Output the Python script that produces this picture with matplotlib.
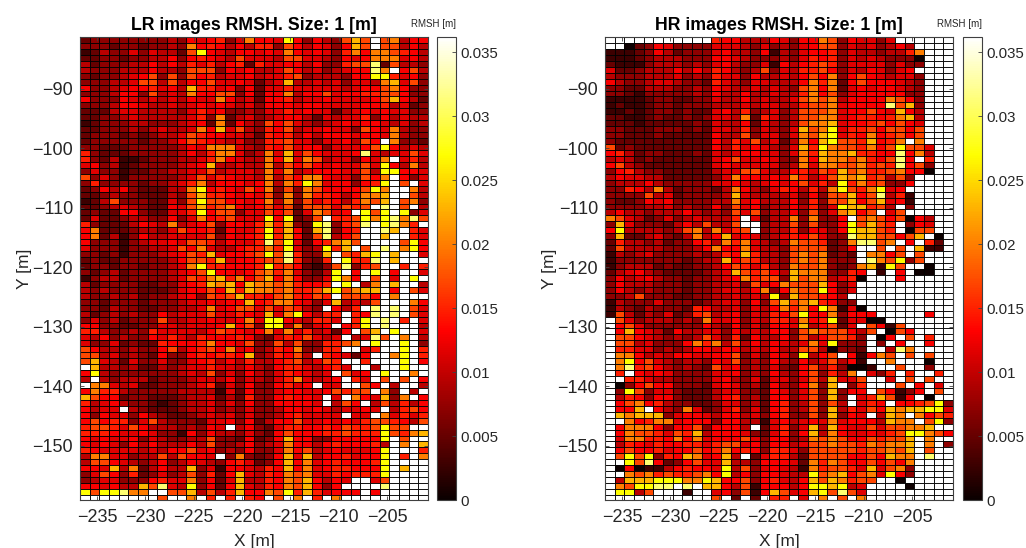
import numpy as np
import matplotlib
matplotlib.use("Agg")
import matplotlib.pyplot as plt

plt.rcParams['font.family'] = ['Liberation Sans', 'DejaVu Sans']

# Cell readings from the picture, one code per cell (see LEVELS), top row first.
LEVELS = {'0': 0.0002, '1': 0.0028, '2': 0.005, '3': 0.0072, '4': 0.0095, '5': 0.0115,
          '6': 0.013, '7': 0.0148, '8': 0.017, '9': 0.020, 'a': 0.023, 'y': 0.027,
          'p': 0.031, 'w': 0.037}

LR_LEFT = """233333333436567359 333233233439676464 124335354428y65466 223323344636765485
423334464647574672 433344464438883656 323345683838674556 333445884846685565
63345667564a775636 333466384549668836 633365454546559645 333466544545656545
222455444435756334 223345444445739245 123334433345629264 22333434544596a584
233323234458766554 233333233468765453 332223333346599954 732223333346479953
732411233344579654 5634123333456a4454 353312233445584555 835313333345857655
373333233457946665 236463222449y67658 223433222438a77656 124833322538y88665
223454322658a78965 232266322557y68835 252234433635967855 732224654945683665
692223443586672655 692413644555583656 633313455658874655 533313344586954467
3323133345687a5667 23223333346887a566 233233233459y77666 3234233334568y6656
13442333345879a796 4233332233567a9a6a 434333222356686a7a 4334342334563878a7
33233323334556566a 332433223344595688 423434336455585576 353423338445565569
663322335545556a68 774334375555468765 546343365754766676 533523227666796658
864434336846786956 88453432633676776a 8a5425335335674647 wa4434224345575546
6y4333333345483536 4w4344423334554635 w99545223334572536 697743333344441526
a86623322234452427 745643321234453536 6455w4322234453435 636553643223454535
686773584333255636 788758644434365w46 777655653316364435 656556354334483326
656536464446483346 765555454668563436 49955344848665w393 488654346346543675
665a4924644a351665 3586372353483726a5 3455333675593625a4 665644a8p54y3626a5
y8yyp99ww88a4847a6 wwwwwwww8ww9w7w7w7""".split()

LR_RIGHT = """665y636438a8w89466 7738646536a8w88464 565965653796998764 554885543656999564
755664633788p28443 445864534566p9w684 455783444366yy7563 245a4454535549a583
255755555456689633 266946685667788633 26674556555568a642 366656655556674523
355756552456565533 345664254557364544 386854345656654534 376845565538659433
276746466656659433 3778553556486w9332 3768566355568y6454 495a5865556p545585
496a5984553659w574 4948686565585y6494 4959456665584yy665 49486996553869w635
69497y9566367yw8w5 693839866668y9ww94 5839397764699aww84 6949385764798aw893
685828885878wpw8w4 5868259856wy8ywy35 5y6y238w778y9yp9p8 7a7a32yp378pwyp97w
7y7a62ap367wwpaw75 7y7a628p468wwaww75 7p8y52679a8wwww8y6 797y534y7aw8wpw9y6
8y8p733aw87aywaww5 788p7327wy77pwawww 7y7862138p378ww7w7 89795324yw6wyw6ww5
8a696335y96w8w5wyw 99897667wyw49waww4 9989778ay89aaw6w85 76897687w8886w9www
67996535a4548www96 5858743w647wpwpw85 5a59y6477w76pwpw85 5yy654775w7ywpw7w5
3yy49356w67ywpwww4 6959574526w8awyww5 325768545w45p8w9w4 33848337789wywwyw3
347693377ww57wwyw7 347684w76526ww9yw7 446784587ww7wwwyw6 4367754675ww4wwyww
43576545w856wyww9w 435795456w75w8w8w6 336756w55ww86w4ww4 335665568788w93w4w
3367665w5w965a39w6 3366665w486w484746 3346656545565w4786 334675555w55w95757
246685565657887648 3257766768778y88ww 3268666778777y879a 236a663366666yw8ww
34596646766674w9wa 3359684565556ywww7 236a5a4667566yw7w9 236a695676667ywwww
476a695677666ywaww 4769895576777ywwww 47698a6465ww58wwww 47698a636wwwwpwwww
698y7a75666w6wwwww 6w8w9w7w9wwwwwwwww""".split()

HR_LEFT = """wwwwwwwwwww7664446 ww0236533335554353 111236423335644361 111234443336654333
211134443435643351 522344464647643483 433344453437553644 643345543327543554
332244433436544545 332133333436446445 111123322335446454 121123323334445455
112123323225647345 221123223235549275 222122222325446254 332223332325547354
332223222226448355 322222222226475845 823222222226475654 674233222325456655
454232222225685565 684322222225655555 367433222224558854 465544222223596656
344464333335565456 337649423332496435 3333845233334a5444 322365633334495644
333344534336385634 464434446434385834 98542353454447w524 3a533324648448ww34
6y4444348949578w34 3a2245324946a56534 274434233674979543 284444333469669544
14345333343476a744 133333332344a68744 134442322334687574 2456432222345a8786
364564332334569788 364443332334453856 364343332334554693 33483332233445454y
143335333234553638 143243332764453546 184243523784563547 w85344434395563547
w68533333364363536 w6a654264455364546 w88654343485372644 w88453336979484646
w77553434665664546 w99645466556683536 w9y685434436583436 w9p786434328563435
w7w656533335563436 ww7754433335643525 w03686633325653426 w3y835532224553326
w47636632224673426 w68967433223553426 w66aw6439523573526 wa9aaa356654664536
ww9679956663664415 w69996366836664w25 w69887587a46665325 w59977696956668536
w47657667757885636 w68667566867967637 w8y8y376a956a4w257 wwy8p6236855a44366
w06011467665y48356 ww9897877896y46366 w4aaayyy99ya668367 w98yyppwpwaa648166
wyy48www1ww563816a wwwwwwwwwww8w2w2w7""".split()

HR_RIGHT = """536698365535wwwwww 43568835453464wwww 435667354434479www 435767354543330www
646787355553533www 54778635465356wwww 546869368654553www 446979268666543www
438969256566543www 447968356666633www 458989466669863www 44788956666p8a3www
348889566865a64www 3488995677679a4www 34899a566786865www 35a89y577868868www
3598ay576967868www 2496ay887a679w9www 35a7y9887968y885ww 3597a99a7766p694ww
3396a9989768p6w7ww 349599889787p683ww 467587a897789660ww 597468a9a78483wwww
568574y7978336wwww 764749y879y56wwwww 4536388a68p471wwww 4637388a68a561wwww
464735yaa784w3wwww 4638359a68w58wwwww 4939336w89868064ww 4838336y8a87w365ww
4736536yaa87w088ww 5768533paa8868aw0w 49887239pp89w6w72w 38888236ww8w8wa11w
38989232w9968w8www 38989333wp98y38www 398893239a1y8ww0ww 4a9993376w1w6w00ww
3a8994570www6wwwww 9888a635wwwwwwwwww 6988y635wwwwwwwwww 3a88764wwwwwwwwwww
a89a7633wwwwwwwwww 9796y9150wwwwwwwww 68y6693666wwwww6ww 75967y25500wwwwwww
65a46825w8618wwwww 6389888648w086wwww 638468873w06w8w7ww 54595y333w3w6ww6ww
448840332ww4p9wwww 53y468w61698w8w8ww 436458461ww9www0ww 3268473001ww8ww3ww
43683749w537w7ww7w 53584a558ww5w8w8ww 43693aw37www8w6w5w 53583a366w86136w8w
63583a3w57a816w0ww 7348384w576w6678y3 73483a47586a9aayy5 73383a365w4a9w9687
64565956664a99w8y3 735a4a655858899aww 736a496556578yy986 6349898668788aw9ww
6458898879899aw9w3 7538888878898aw8ww 74288886686a99wpww 65297986686869wwww
541978875a5893wwww 544y89a6895y63wwww 546a8a9788ww0wwwww 646yyay45wwww0wwww
856ay8p85wwwwwwwww 7w5w9w8w9wwwwwwwww""".split()

TITLES = ["LR images RMSH. Size: 1 [m]", "HR images RMSH. Size: 1 [m]"]
X_TICKS = [-235, -230, -225, -220, -215, -210, -205]
Y_TICKS = [-150, -140, -130, -120, -110, -100, -90]
CB_TICKS = [0, 0.005, 0.01, 0.015, 0.02, 0.025, 0.03, 0.035]
CB_LABELS = ['0', '0.005', '0.01', '0.015', '0.02', '0.025', '0.03', '0.035']
VMAX = 0.0362
X0, Y0 = -236.76, -81.26


def grid(left, right):
    rows = []
    for a, b in zip(left, right):
        s = (a + b)
        assert len(s) == 36, (a, b)
        rows.append([LEVELS[c] for c in s])
    return np.array(rows)


W, H = 1026, 548
fig = plt.figure(figsize=(W / 100, H / 100), dpi=100)
DARK = '#404040'
panels = [(grid(LR_LEFT, LR_RIGHT), 80, 437), (grid(HR_LEFT, HR_RIGHT), 605, 963)]
for i, (Z, px, cx) in enumerate(panels):
    ax = fig.add_axes([px / W, (H - 500) / H, 348 / W, 463 / H])
    xe = X0 + np.arange(Z.shape[1] + 1)
    ye = Y0 - np.arange(Z.shape[0] + 1)
    m = ax.pcolormesh(xe, ye, Z, cmap='hot', vmin=0, vmax=VMAX,
                      edgecolors='k', linewidth=0.62, antialiased=True)
    ax.set_xlim(X0, X0 + 36)
    ax.set_ylim(-159.1, Y0)
    ax.set_xticks(X_TICKS)
    ax.set_yticks(Y_TICKS)
    ax.tick_params(direction='in', top=True, right=True, length=3, width=0.6,
                   labelsize=13, color=DARK, labelcolor='#262626')
    ax.tick_params(axis='x', pad=6.5)
    ax.tick_params(axis='y', pad=5)
    for s in ax.spines.values():
        s.set_color(DARK)
        s.set_linewidth(0.8)
    ax.set_title(TITLES[i], fontsize=12.8, fontweight='bold', pad=5, color='k')
    ax.set_xlabel('X [m]', fontsize=12.5, labelpad=6, color='#262626')
    ax.set_ylabel('Y [m]', fontsize=12.5, labelpad=0.5, color='#262626')

    cax = fig.add_axes([cx / W, (H - 500) / H, 19 / W, 463 / H])
    cb = fig.colorbar(m, cax=cax)
    cb.set_ticks(CB_TICKS)
    cb.set_ticklabels(CB_LABELS)
    cb.ax.tick_params(direction='in', length=3, width=0.6, labelsize=10.8,
                      color=DARK, labelcolor='#262626', pad=3)
    cb.outline.set_edgecolor(DARK)
    cb.outline.set_linewidth(0.8)
    fig.text((cx + 19) / W, 1 - 24 / H, 'RMSH [m]', ha='right', va='center',
             fontsize=7, color='#262626')

fig.savefig('out.png', dpi=100)
